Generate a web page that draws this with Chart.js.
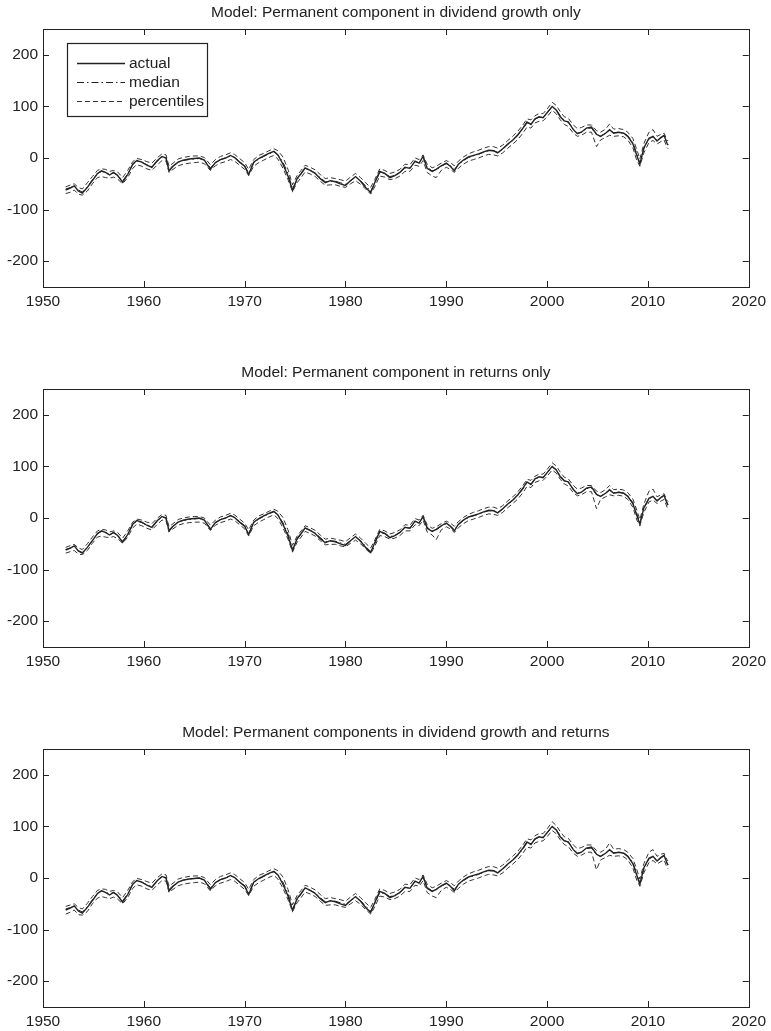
<!DOCTYPE html>
<html>
<head>
<meta charset="utf-8">
<script src="https://cdn.jsdelivr.net/npm/chart.js@4.4.1/dist/chart.umd.min.js"></script>
<style>
  html, body { margin: 0; padding: 0; background: #fff; overflow: hidden; }
  .panel { position: absolute; left: 0; }
</style>
</head>
<body>
<canvas id="c1" class="panel" width="771" height="311" style="top:0px"></canvas>
<canvas id="c2" class="panel" width="771" height="311" style="top:360px"></canvas>
<canvas id="c3" class="panel" width="771" height="311" style="top:720px"></canvas>
<script>
// -----------------------------
// Data
// -----------------------------
const titles = [
  'Model: Permanent component in dividend growth only',
  'Model: Permanent component in returns only',
  'Model: Permanent components in dividend growth and returns'
];
const legendLabels = ['actual', 'median', 'percentiles'];
const xTicks = [1950, 1960, 1970, 1980, 1990, 2000, 2010, 2020];
const yTicks = [-200, -100, 0, 100, 200];

const years = [
  1952.25, 1952.75, 1953.1, 1953.5, 1953.9, 1954.4, 1954.9, 1955.4, 1955.8, 1956.2,
  1956.6, 1957.0, 1957.4, 1957.9, 1958.4, 1958.9, 1959.3, 1959.8, 1960.3, 1960.8,
  1961.3, 1961.8, 1962.2, 1962.5, 1962.9, 1963.4, 1963.9, 1964.5, 1965.0, 1965.5,
  1966.0, 1966.6, 1967.1, 1967.6, 1968.1, 1968.6, 1969.0, 1969.5, 1970.0, 1970.4,
  1970.9, 1971.4, 1971.9, 1972.4, 1972.9, 1973.3, 1973.8, 1974.3, 1974.75, 1975.2,
  1975.6, 1976.0, 1976.5, 1977.0, 1977.5, 1978.0, 1978.5, 1979.0, 1979.5, 1980.0,
  1980.5, 1981.0, 1981.5, 1982.0, 1982.5, 1982.9, 1983.4, 1983.9, 1984.4, 1984.9,
  1985.4, 1985.9, 1986.4, 1986.9, 1987.3, 1987.7, 1988.1, 1988.6, 1989.0, 1989.5,
  1990.0, 1990.4, 1990.8, 1991.2, 1991.7, 1992.2, 1992.7, 1993.2, 1993.7, 1994.2,
  1994.7, 1995.1, 1995.6, 1996.1, 1996.6, 1997.1, 1997.6, 1998.0, 1998.4, 1998.8,
  1999.2, 1999.6, 2000.0, 2000.5, 2000.9, 2001.3, 2001.7, 2002.1, 2002.6, 2003.0,
  2003.4, 2003.9, 2004.4, 2004.9, 2005.3, 2005.8, 2006.2, 2006.6, 2007.1, 2007.6,
  2008.0, 2008.5, 2008.9, 2009.2, 2009.6, 2010.1, 2010.5, 2010.9, 2011.3, 2011.6,
  2011.9, 2012.0
];

const actual = [
  -62, -58, -54, -64, -68, -57, -44, -30, -25, -28,
  -33, -28, -34, -47, -32, -12, -5, -8, -14, -18,
  -6, 3, 0, -25, -16, -8, -4, -2, -1, 0,
  -4, -22, -9, -3, 0, 5, 1, -8, -16, -32,
  -8, -1, 4, 9, 13, 6, -12, -35, -63, -40,
  -30, -19, -24, -30, -40, -48, -44, -46, -50, -53,
  -44, -36, -45, -57, -67, -48, -26, -30, -38, -34,
  -28, -18, -20, -6, -10, 3, -20, -26, -22, -15,
  -10, -16, -25, -12, -4, 2, 5, 8, 12, 15,
  14, 10, 18, 27, 35, 45, 58, 70, 65, 76,
  80, 78, 88, 100, 93, 80, 72, 70, 55, 47,
  50, 58, 60, 46, 42, 48, 55, 48, 50, 48,
  42, 28, 5, -12, 20, 38, 42, 33, 40, 44,
  28, 25
];

// Panel 1: dividend growth only
const median1 = [
  -60, -57, -55, -62, -66, -56, -42, -30, -26, -28,
  -31, -29, -33, -44, -31, -13, -6, -8, -13, -17,
  -7, 2, 1, -22, -15, -8, -5, -3, -2, -1,
  -4, -19, -9, -3, 0, 4, 1, -7, -15, -29,
  -9, -2, 3, 8, 12, 6, -8, -30, -60, -42,
  -31, -20, -24, -29, -38, -46, -45, -45, -48, -51,
  -44, -37, -44, -54, -64, -50, -28, -30, -36, -34,
  -28, -19, -19, -7, -9, 2, -18, -25, -23, -16,
  -11, -15, -22, -13, -5, 1, 4, 7, 11, 14,
  14, 11, 17, 26, 34, 44, 56, 68, 66, 75,
  79, 79, 87, 99, 94, 82, 73, 69, 56, 48,
  50, 57, 58, 45, 42, 48, 54, 49, 50, 48,
  43, 30, 8, -10, 18, 37, 41, 34, 39, 43,
  30, 26
];
const lower1 = [
  -69, -66, -62, -70, -72, -64, -50, -38, -36, -38,
  -39, -37, -41, -50, -38, -20, -13, -16, -21, -24,
  -14, -5, -6, -28, -22, -15, -12, -10, -9, -8,
  -11, -24, -15, -10, -7, -3, -6, -14, -22, -34,
  -16, -9, -4, 1, 5, -2, -20, -42, -65, -48,
  -38, -27, -31, -36, -45, -53, -52, -52, -55, -57,
  -50, -44, -51, -60, -70, -56, -35, -37, -42, -40,
  -35, -26, -26, -14, -16, -5, -28, -35, -38, -24,
  -18, -22, -28, -20, -12, -6, -3, 0, 4, 7,
  6, 4, 10, 19, 27, 36, 48, 60, 58, 68,
  71, 72, 80, 92, 86, 74, 65, 61, 48, 42,
  44, 50, 50, 22, 35, 40, 44, 42, 43, 41,
  35, 20, -5, -16, 10, 30, 34, 27, 32, 35,
  20, 18
];
const upper1 = [
  -56, -52, -50, -57, -60, -48, -36, -24, -21, -22,
  -26, -24, -27, -38, -24, -7, -1, -3, -7, -10,
  0, 8, 6, -16, -10, -2, 1, 3, 4, 4,
  1, -13, -3, 3, 6, 10, 7, -1, -9, -22,
  -3, 5, 9, 14, 18, 14, 2, -22, -52, -34,
  -24, -14, -18, -23, -32, -40, -38, -40, -42, -45,
  -37, -30, -38, -48, -57, -42, -21, -24, -30, -27,
  -22, -12, -13, 0, -3, 6, -12, -19, -16, -10,
  -5, -9, -15, -6, 2, 8, 12, 15, 19, 22,
  22, 19, 25, 34, 42, 52, 64, 76, 74, 82,
  86, 86, 95, 108, 102, 90, 80, 77, 64, 57,
  59, 64, 64, 53, 50, 56, 66, 56, 57, 55,
  50, 38, 16, -2, 28, 50, 55, 42, 46, 48,
  35, 33
];

// Panel 2: returns only
const median2 = [
  -61, -58, -54, -63, -67, -57, -43, -31, -26, -28,
  -32, -29, -33, -45, -32, -13, -6, -9, -14, -17,
  -7, 2, 0, -23, -15, -8, -5, -3, -2, -1,
  -4, -20, -9, -3, 0, 4, 1, -7, -15, -30,
  -9, -2, 3, 8, 12, 6, -9, -31, -61, -42,
  -31, -20, -24, -29, -38, -46, -45, -45, -48, -51,
  -44, -37, -44, -55, -65, -50, -28, -30, -36, -34,
  -28, -19, -19, -7, -9, 2, -18, -25, -23, -16,
  -11, -15, -23, -13, -5, 1, 4, 7, 11, 14,
  14, 11, 17, 26, 34, 44, 56, 68, 66, 75,
  79, 79, 87, 99, 94, 82, 73, 69, 56, 48,
  50, 57, 58, 45, 42, 48, 54, 49, 50, 48,
  43, 30, 8, -10, 18, 37, 41, 34, 39, 43,
  30, 26
];
const lower2 = [
  -68, -65, -63, -70, -71, -63, -49, -37, -35, -37,
  -38, -36, -40, -49, -37, -19, -12, -15, -20, -23,
  -13, -4, -5, -27, -21, -14, -11, -9, -8, -8,
  -10, -24, -14, -9, -6, -2, -5, -13, -21, -35,
  -15, -8, -3, 2, 6, -1, -19, -41, -66, -47,
  -37, -26, -30, -35, -44, -52, -51, -51, -54, -56,
  -49, -43, -50, -60, -69, -55, -34, -36, -41, -39,
  -34, -25, -25, -13, -15, -4, -27, -33, -42, -23,
  -17, -21, -28, -19, -11, -5, -2, 1, 5, 8,
  7, 5, 11, 20, 28, 37, 49, 61, 59, 69,
  72, 73, 81, 93, 87, 75, 66, 62, 49, 43,
  45, 51, 51, 18, 36, 41, 45, 43, 44, 42,
  36, 21, -4, -15, 11, 31, 35, 28, 33, 36,
  21, 19
];
const upper2 = [
  -57, -53, -51, -58, -61, -50, -37, -25, -22, -23,
  -27, -25, -28, -39, -25, -8, -2, -4, -8, -11,
  -1, 7, 5, -17, -11, -3, 0, 2, 3, 3,
  0, -14, -4, 2, 5, 9, 6, -2, -10, -23,
  -4, 4, 8, 13, 17, 13, 1, -23, -53, -35,
  -25, -15, -19, -24, -33, -41, -39, -41, -43, -46,
  -38, -31, -39, -49, -58, -43, -22, -25, -31, -28,
  -23, -13, -14, -1, -4, 5, -13, -20, -17, -11,
  -6, -10, -16, -7, 1, 7, 11, 14, 18, 21,
  21, 18, 24, 33, 41, 51, 63, 75, 73, 81,
  85, 85, 94, 107, 101, 89, 79, 76, 63, 56,
  58, 63, 63, 52, 49, 55, 63, 55, 56, 54,
  49, 37, 15, -3, 27, 52, 56, 41, 45, 47,
  34, 32
];

// Panel 3: dividend growth and returns
const median3 = [
  -60, -57, -55, -62, -66, -56, -42, -30, -25, -27,
  -31, -28, -33, -44, -31, -12, -5, -8, -13, -17,
  -6, 2, 1, -22, -15, -8, -4, -2, -1, 0,
  -4, -19, -9, -3, 0, 4, 1, -7, -15, -29,
  -9, -2, 3, 8, 12, 6, -8, -30, -60, -42,
  -31, -20, -24, -29, -38, -46, -45, -45, -48, -51,
  -44, -37, -44, -54, -64, -50, -28, -30, -36, -34,
  -28, -19, -19, -7, -9, 2, -18, -25, -23, -16,
  -11, -15, -22, -13, -5, 1, 4, 7, 11, 14,
  14, 11, 17, 26, 34, 44, 56, 68, 66, 75,
  79, 79, 87, 99, 94, 82, 73, 69, 56, 48,
  50, 57, 58, 45, 42, 48, 54, 49, 50, 48,
  43, 30, 8, -10, 18, 37, 41, 34, 39, 43,
  30, 26
];
const lower3 = [
  -70, -66, -62, -71, -72, -65, -50, -39, -36, -38,
  -40, -37, -41, -50, -38, -20, -13, -16, -21, -24,
  -14, -5, -6, -28, -22, -15, -12, -10, -9, -8,
  -11, -25, -15, -10, -7, -3, -6, -14, -22, -34,
  -16, -9, -4, 1, 5, -2, -20, -42, -65, -48,
  -38, -27, -31, -36, -45, -53, -52, -52, -55, -57,
  -50, -44, -51, -61, -70, -56, -35, -37, -42, -40,
  -35, -26, -26, -14, -16, -5, -28, -35, -38, -24,
  -18, -22, -28, -20, -12, -6, -3, 0, 4, 7,
  6, 4, 10, 19, 27, 36, 48, 60, 58, 68,
  71, 72, 80, 92, 86, 74, 65, 61, 48, 42,
  44, 50, 50, 16, 35, 40, 44, 42, 43, 41,
  35, 20, -5, -16, 10, 30, 34, 27, 32, 35,
  20, 18
];
const upper3 = [
  -55, -52, -50, -57, -60, -49, -36, -24, -21, -22,
  -26, -24, -27, -38, -24, -7, -1, -3, -7, -10,
  0, 8, 6, -16, -10, -2, 1, 3, 4, 4,
  1, -13, -3, 3, 6, 10, 7, -1, -9, -22,
  -3, 5, 9, 14, 18, 14, 2, -22, -52, -34,
  -24, -14, -18, -23, -32, -40, -38, -40, -42, -45,
  -37, -30, -38, -48, -57, -42, -21, -24, -30, -27,
  -22, -12, -13, 0, -3, 6, -12, -19, -16, -10,
  -5, -9, -15, -6, 2, 8, 12, 15, 19, 22,
  22, 19, 25, 34, 42, 52, 64, 76, 74, 82,
  86, 86, 95, 109, 102, 90, 80, 77, 64, 57,
  59, 64, 64, 53, 50, 56, 68, 56, 57, 55,
  50, 38, 16, -2, 28, 50, 55, 42, 46, 48,
  35, 33
];

const panels = [
  { id: 'c1', median: median1, lower: lower1, upper: upper1, legend: true },
  { id: 'c2', median: median2, lower: lower2, upper: upper2, legend: false },
  { id: 'c3', median: median3, lower: lower3, upper: upper3, legend: false }
];

// -----------------------------
// Styles
// -----------------------------
const FONT = '"Liberation Sans", Arial, Helvetica, sans-serif';
const INK = '#222';
const styles = {
  actual: { color: '#222', width: 1.4, dash: [] },
  median: { color: '#222', width: 1, dash: [7, 3, 1.5, 3] },
  pct: { color: '#333', width: 1, dash: [5, 3] }
};

const toPoints = arr => years.map((x, i) => ({ x: x, y: arr[i] }));

// Box round the plot with MATLAB-style inward ticks
const framePlugin = {
  id: 'frame',
  afterDatasetsDraw(chart) {
    const { ctx, chartArea: a, scales } = chart;
    const len = 6;
    ctx.save();
    ctx.strokeStyle = INK;
    ctx.lineWidth = 1;
    ctx.setLineDash([]);
    ctx.beginPath();
    xTicks.forEach(v => {
      const px = Math.round(scales.x.getPixelForValue(v)) + 0.5;
      ctx.moveTo(px, a.bottom); ctx.lineTo(px, a.bottom - len);
      ctx.moveTo(px, a.top); ctx.lineTo(px, a.top + len);
    });
    yTicks.forEach(v => {
      const py = Math.round(scales.y.getPixelForValue(v)) + 0.5;
      ctx.moveTo(a.left, py); ctx.lineTo(a.left + len, py);
      ctx.moveTo(a.right, py); ctx.lineTo(a.right - len, py);
    });
    ctx.stroke();
    ctx.strokeRect(Math.round(a.left) + 0.5, Math.round(a.top) + 0.5,
      Math.round(a.right - a.left), Math.round(a.bottom - a.top));
    ctx.restore();
  }
};

// Title centred over the plot area, not the whole canvas
const plotTitlePlugin = {
  id: 'plotTitle',
  afterDraw(chart, args, opts) {
    const { ctx, chartArea: a } = chart;
    ctx.save();
    ctx.font = '15.5px ' + FONT;
    ctx.fillStyle = INK;
    ctx.textAlign = 'center';
    ctx.textBaseline = 'middle';
    ctx.fillText(opts.text, (a.left + a.right) / 2, 13);
    ctx.restore();
  }
};

// Legend box inside the top-left corner (first panel only)
const boxLegendPlugin = {
  id: 'boxLegend',
  afterDraw(chart, args, opts) {
    if (!opts.show) return;
    const { ctx, chartArea: a } = chart;
    const x0 = a.left + 24, y0 = a.top + 14, w = 140, h = 73;
    const rows = [styles.actual, styles.median, styles.pct];
    ctx.save();
    ctx.fillStyle = '#fff';
    ctx.fillRect(x0, y0, w, h);
    ctx.strokeStyle = INK;
    ctx.lineWidth = 1.2;
    ctx.setLineDash([]);
    ctx.strokeRect(x0 + 0.5, y0 + 0.5, w, h);
    ctx.font = '15.5px ' + FONT;
    ctx.textBaseline = 'middle';
    ctx.fillStyle = INK;
    rows.forEach((s, i) => {
      const y = y0 + 20 + i * 19;
      ctx.strokeStyle = s.color;
      ctx.lineWidth = s.width;
      ctx.setLineDash(s.dash);
      ctx.beginPath();
      ctx.moveTo(x0 + 10, y + 0.5);
      ctx.lineTo(x0 + 58, y + 0.5);
      ctx.stroke();
      ctx.fillText(legendLabels[i], x0 + 62, y + 1);
    });
    ctx.restore();
  }
};

panels.forEach((p, k) => {
  const line = (label, arr, s) => ({
    label: label,
    data: toPoints(arr),
    borderColor: s.color,
    borderWidth: s.width,
    borderDash: s.dash,
    pointRadius: 0,
    tension: 0,
    fill: false
  });

  new Chart(document.getElementById(p.id), {
    type: 'line',
    data: {
      datasets: [
        line('lower', p.lower, styles.pct),
        line('upper', p.upper, styles.pct),
        line('median', p.median, styles.median),
        line('actual', actual, styles.actual)
      ]
    },
    options: {
      responsive: false,
      animation: false,
      layout: { padding: { left: 0, right: 18, top: 29, bottom: 0 } },
      plugins: {
        legend: { display: false },
        tooltip: { enabled: false },
        title: { display: false },
        plotTitle: { text: titles[k] },
        boxLegend: { show: p.legend }
      },
      scales: {
        x: {
          type: 'linear',
          min: 1950,
          max: 2020,
          grid: { display: false, drawTicks: false },
          border: { display: false },
          afterBuildTicks: s => { s.ticks = xTicks.map(v => ({ value: v })); },
          afterFit: s => { s.height = 24; },
          ticks: {
            color: INK,
            padding: 5,
            maxRotation: 0,
            font: { family: FONT, size: 15.5 },
            callback: v => String(v)
          }
        },
        y: {
          min: -250,
          max: 250,
          grid: { display: false, drawTicks: false },
          border: { display: false },
          afterBuildTicks: s => { s.ticks = yTicks.map(v => ({ value: v })); },
          afterFit: s => { s.width = 43; },
          ticks: {
            color: INK,
            padding: 5,
            font: { family: FONT, size: 15.5 },
            callback: v => String(v)
          }
        }
      }
    },
    plugins: [framePlugin, plotTitlePlugin, boxLegendPlugin]
  });
});
</script>
</body>
</html>
